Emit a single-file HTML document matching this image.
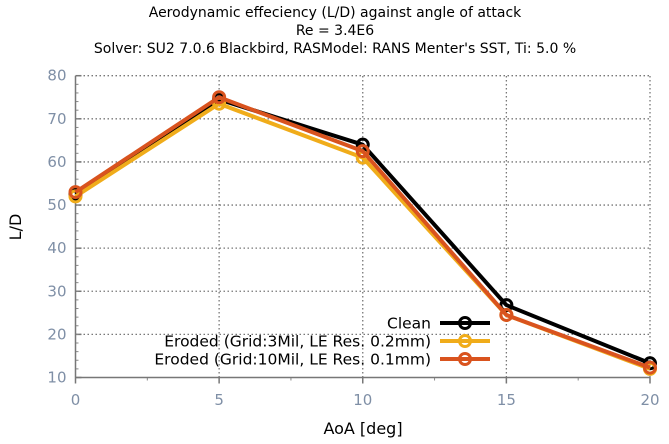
<!DOCTYPE html>
<html><head><meta charset="utf-8"><style>
body{margin:0;background:#fff}
svg{display:block;font-family:"DejaVu Sans","Liberation Sans",sans-serif}
</style></head><body>
<svg id="chart" width="669" height="444" viewBox="0 0 669 444">
<g font-size="14" text-anchor="middle" fill="#000">
<text x="335" y="17">Aerodynamic effeciency (L/D) against angle of attack</text>
<text x="335" y="35">Re = 3.4E6</text>
<text x="335" y="53">Solver: SU2 7.0.6 Blackbird, RASModel: RANS Menter's SST, Ti: 5.0 %</text>
</g>
<g id="grid"></g>
<g id="axes"></g>
<text x="21" y="227" font-size="16" text-anchor="middle" transform="rotate(-90 21 227)">L/D</text>
<text x="363" y="434" font-size="16" text-anchor="middle">AoA [deg]</text>
<g id="series"></g>
<g id="legend"></g>
</svg>
<script>
const aoa=[0,5,10,15,20];
const clean=[52.5,74.5,64,26.8,13.3];
const eroded3=[52,73.5,61,24.5,12];
const eroded10=[53,75,62.5,24.5,12.3];
const seriesNames=["Clean","Eroded (Grid:3Mil, LE Res. 0.2mm)","Eroded (Grid:10Mil, LE Res. 0.1mm)"];
const seriesColors=["#000000","#f0ac1a","#d9531e"];
const xTicks=[0,5,10,15,20];
const yTicks=[10,20,30,40,50,60,70,80];
const NS="http://www.w3.org/2000/svg";
const X=v=>75.5+(v-0)*(650-75.5)/20;
const Y=v=>377.5-(v-10)*(377.5-75.7)/70;
function mk(t,a,p){const e=document.createElementNS(NS,t);for(const k in a)e.setAttribute(k,a[k]);p.appendChild(e);return e;}
const grid=document.getElementById('grid'),axes=document.getElementById('axes'),ser=document.getElementById('series'),leg=document.getElementById('legend');
yTicks.forEach(v=>{
 if(v>10){const l=mk('line',{x1:X(0),x2:X(20),y1:Y(v),y2:Y(v),stroke:'#777','stroke-width':1.3,'stroke-dasharray':'1.5,2.5'},grid);
 }
 const t=mk('text',{x:X(0)-9,y:Y(v)+5,'font-size':15,'text-anchor':'end',fill:'#7f8fa6'},axes);t.textContent=v;
 
 mk('line',{x1:X(0),x2:X(0)+6,y1:Y(v),y2:Y(v),stroke:'#777','stroke-width':1.5},axes);
});
for(let v=10;v<80;v+=2){mk('line',{x1:X(0),x2:X(0)+3,y1:Y(v),y2:Y(v),stroke:'#888','stroke-width':1},axes);}
xTicks.forEach(v=>{
 if(v>0){const l=mk('line',{x1:X(v),x2:X(v),y1:Y(10),y2:Y(80),stroke:'#777','stroke-width':1.3,'stroke-dasharray':'1.5,2.5'},grid);
 }
 const t=mk('text',{x:X(v),y:405,'font-size':15,'text-anchor':'middle',fill:'#7f8fa6'},axes);t.textContent=v;
 
 mk('line',{x1:X(v),x2:X(v),y1:Y(10),y2:Y(10)+6,stroke:'#777','stroke-width':1.5},axes);
 if(v<20)mk('line',{x1:X(v+2.5),x2:X(v+2.5),y1:Y(10),y2:Y(10)+3,stroke:'#888','stroke-width':1},axes);
});
mk('line',{x1:X(0),x2:X(0),y1:Y(10),y2:Y(80),stroke:'#777','stroke-width':1.5},axes);
mk('line',{x1:X(0),x2:X(20),y1:Y(10),y2:Y(10),stroke:'#777','stroke-width':1.5},axes);
[clean,eroded3,eroded10].forEach((d,i)=>{
 const g=mk('g',{},ser);
 
 mk('polyline',{points:d.map((v,j)=>X(aoa[j])+','+Y(v)).join(' '),fill:'none',stroke:seriesColors[i],'stroke-width':4,'stroke-linejoin':'round'},g);
 d.forEach((v,j)=>{const c=mk('circle',{cx:X(aoa[j]),cy:Y(v),r:5.5,fill:'none',stroke:seriesColors[i],'stroke-width':3},g);
 });
 const ly=323+i*18;
 const t=mk('text',{x:431,y:ly+5.5,'font-size':15.5,'text-anchor':'end'},leg);t.textContent=seriesNames[i];
 
 mk('line',{x1:440,x2:490,y1:ly,y2:ly,stroke:seriesColors[i],'stroke-width':4},leg);
 mk('circle',{cx:465,cy:ly,r:5.5,fill:'none',stroke:seriesColors[i],'stroke-width':3},leg);
});
</script>
</body></html>
